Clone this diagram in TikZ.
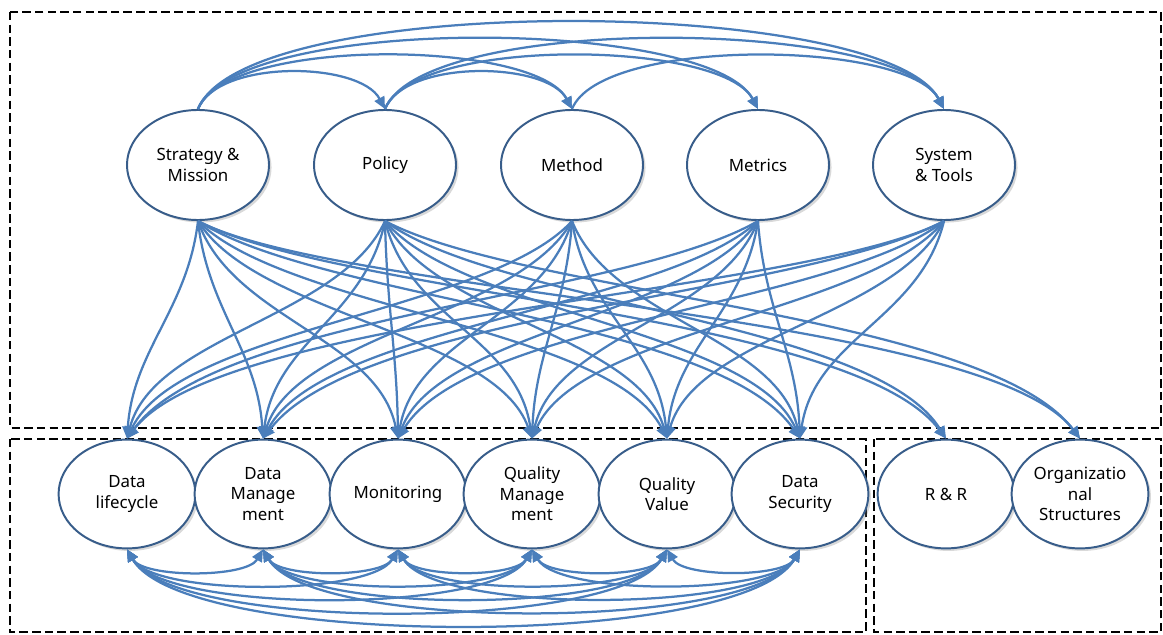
\documentclass[tikz,border=0pt]{standalone}
\usepackage{fontspec}
\setmainfont{Noto Sans}
\usepackage{tikz}
\usetikzlibrary{arrows.meta,shapes.geometric,shadows}

\definecolor{linkblue}{HTML}{4A7EBB}
\definecolor{ovalline}{HTML}{385D8A}

\begin{document}
\begin{tikzpicture}[x=0.025cm,y=0.025cm,
  area/.style={draw=black,line width=2.1pt,dash pattern=on 6pt off 3pt},
  topic/.style={ellipse,draw=ovalline,line width=1.4pt,fill=white,
    minimum width=3.55cm,minimum height=2.75cm,inner sep=0pt,align=center,
    font=\fontsize{12}{14.5}\selectfont,
    drop shadow={shadow xshift=1.8pt,shadow yshift=-1.8pt,opacity=0.3}},
  part/.style={topic,minimum width=3.42cm,minimum height=2.72cm},
  link/.style={draw=linkblue,line width=1.6pt,-{Triangle[length=3mm,width=2.7mm]}},
  twoway/.style={link,{Triangle[length=3mm,width=2.7mm]}-{Triangle[length=3mm,width=2.7mm]}}]
\useasboundingbox (0,0) rectangle (1163,634);

% dashed areas
\draw[area] (10,622) rectangle (1161,206);
\draw[area] (10,195) rectangle (866,2);
\draw[area] (874,195) rectangle (1161,2);

% upper row
\node[topic] (sm) at (198,469) {Strategy \&\\Mission};
\node[topic] (po) at (385,469) {Policy};
\node[topic] (me) at (572,469) {Method};
\node[topic] (mt) at (758,469) {Metrics};
\node[topic] (st) at (944,469) {System\\\& Tools};

% lower row
\node[part] (dl) at (127,140) {Data\\lifecycle};
\node[part] (dm) at (263,140) {Data\\Manage\\ment};
\node[part] (mo) at (398,140) {Monitoring};
\node[part] (qm) at (532,140) {Quality\\Manage\\ment};
\node[part] (qv) at (667,140) {Quality\\Value};
\node[part] (ds) at (800,140) {Data\\Security};
\node[part] (rr) at (946,140) {R \& R};
\node[part] (os) at (1080,140) {Organizatio\\nal\\Structures};

% arcs over the upper row
\foreach \a/\ax/\b/\bx in {sm/198/po/385,sm/198/me/572,sm/198/mt/758,sm/198/st/944,
    po/385/me/572,po/385/mt/758,po/385/st/944,me/572/st/944}{
  \pgfmathsetmacro\lz{(20+0.09*(\bx-\ax))/(0.266*(\bx-\ax))}
  \draw[link] (\a.north) to[out=68,in=118,looseness=\lz] (\b.north);
}

% upper row down to the lower row
\foreach \t/\tx in {sm/198,po/385,me/572,mt/758,st/944}
  \foreach \p/\px in {dl/127,dm/263,mo/398,qm/532,qv/667,ds/800}{
    \pgfmathsetmacro\ang{max(-62,min(62,0.095*(\px-\tx)))}
    \pgfmathsetmacro\oa{-90+\ang}
    \pgfmathsetmacro\ia{90+0.6*\ang}
    \pgfmathsetmacro\lz{min(1,200/((cos(\ang)+cos(0.6*\ang))*0.3915*veclen(\px-\tx,220)))}
    \draw[link] (\t.south) to[out=\oa,in=\ia,looseness=\lz] (\p.north);
  }
\foreach \t/\tx in {sm/198,po/385}
  \foreach \p/\px in {rr/946,os/1080}{
    \pgfmathsetmacro\ang{max(-62,min(62,0.095*(\px-\tx)))}
    \pgfmathsetmacro\oa{-90+\ang}
    \pgfmathsetmacro\ia{90+0.6*\ang}
    \pgfmathsetmacro\lz{min(1,200/((cos(\ang)+cos(0.6*\ang))*0.3915*veclen(\px-\tx,220)))}
    \draw[link] (\t.south) to[out=\oa,in=\ia,looseness=\lz] (\p.north);
  }

% arcs under the lower row
\foreach \a/\ax [count=\i] in {dl/127,dm/263,mo/398,qm/532,qv/667}
  \foreach \b/\bx [count=\j] in {dm/263,mo/398,qm/532,qv/667,ds/800}{
    \ifnum\j<\i\relax\else
      \pgfmathsetmacro\lz{(8+0.1*(\bx-\ax))/(0.254*(\bx-\ax))}
      \draw[twoway] (\a.south) to[out=-60,in=-120,looseness=\lz] (\b.south);
    \fi
  }
\end{tikzpicture}
\end{document}
